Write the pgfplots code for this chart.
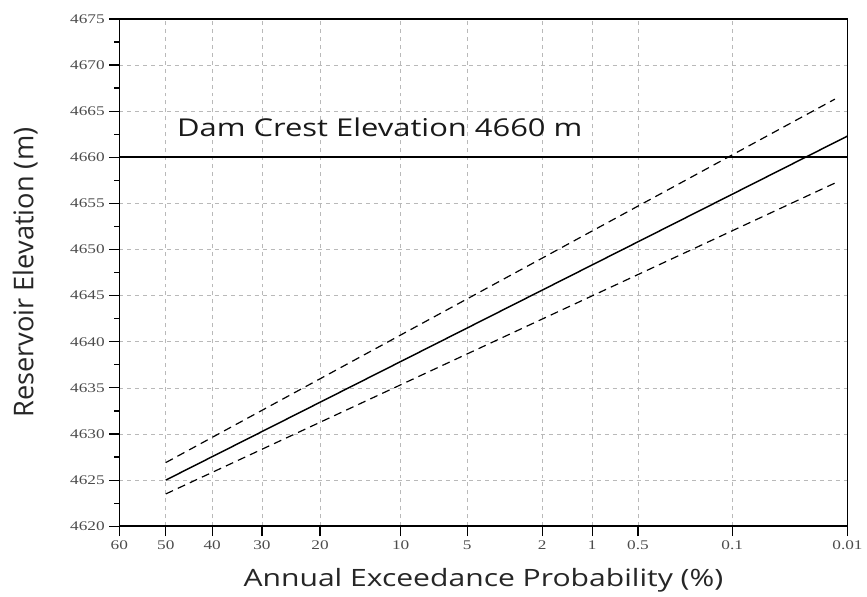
\documentclass[border=0pt]{standalone}
\usepackage{pgfplots}
\pgfplotsset{compat=1.18}
\usepackage{fontspec}
\setmainfont{Open Sans}
\newfontfamily\widefont[FakeStretch=1.26]{Open Sans}
\newfontfamily\tickfont[FakeStretch=1.3]{Liberation Serif}
\begin{document}
\begin{tikzpicture}
\begin{axis}[
  scale only axis, width=549pt, height=382.5pt,
  xmin=-0.253347, xmax=3.719016, ymin=4620, ymax=4675,
  xtick={-0.253347,0,0.253347,0.524401,0.841621,1.281552,1.644854,2.053749,2.326348,2.575829,3.090232,3.719016},
  xticklabels={60,50,40,30,20,10,5,2,1,0.5,0.1,0.01},
  ytick={4620,4625,...,4675},
  minor y tick num=1,
  tick pos=left, tick align=outside,
  major tick length=7.5pt, minor tick length=4pt,
  tick style={black, line width=0.9pt},
  grid=major,
  major grid style={gray!55, dashed, line width=0.5pt},
  axis line style={line width=1.2pt},
  ticklabel style={font=\tickfont\fontsize{10}{12}\selectfont, text=black!70},
  /pgf/number format/assume math mode=true,
  /pgf/number format/1000 sep={},
  xlabel={Annual Exceedance Probability (\%)},
  ylabel={Reservoir Elevation (m)},
  xlabel style={font=\widefont\fontsize{18}{22}\selectfont, text=black!85, at={([yshift=-41pt]axis description cs:0.5,0)}, anchor=center},
  ylabel style={font=\fontsize{20.5}{24}\selectfont, text=black!85, at={([xshift=-71pt]axis description cs:0,0.5)}, anchor=center, rotate=0},
  clip=false,
]
\path (axis description cs:-0.1639,-0.1373) rectangle (axis description cs:1.0205,1.0373);
% dam crest
\addplot[black, line width=1.4pt] coordinates {(-0.253347,4660) (3.719016,4660)};
% fitted curve
\addplot[black, line width=1.1pt] coordinates {(0,4625.0) (3.719016,4662.3)};
% confidence limits
\addplot[black, line width=0.9pt, dash pattern=on 6pt off 4pt] coordinates {(0,4626.9) (3.65,4666.3)};
\addplot[black, line width=0.9pt, dash pattern=on 6pt off 4pt] coordinates {(0,4623.5) (3.65,4657.2)};
\node[anchor=base west, font=\widefont\fontsize{18.5}{20}\selectfont, text=black!90, inner sep=0pt] at (axis cs:0.06,4662.2) {Dam Crest Elevation 4660 m};
\end{axis}
\end{tikzpicture}
\end{document}
